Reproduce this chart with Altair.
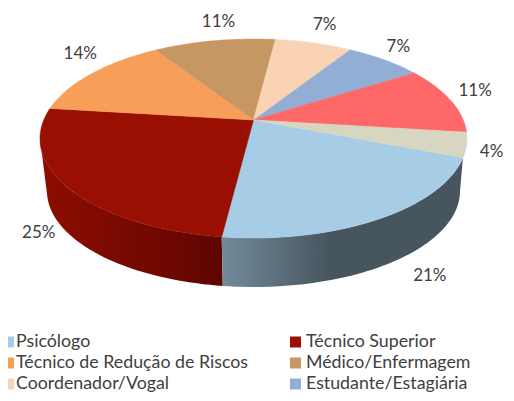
import math
import altair as alt

# --- data
categories = ["Psicólogo", "Técnico Superior", "Técnico de Redução de Riscos", "Médico/Enfermagem",
              "Coordenador/Vogal", "Estudante/Estagiária", "Outros A", "Outros B"]
shares = [21, 25, 14, 11, 7, 7, 11, 4]
top_colors = ["#A6CDE5", "#990F02", "#F79F58", "#C79763", "#FAD3B5", "#92AED4", "#FF6868", "#D8D6C0"]
legend_names = categories[:6]

# --- layout (picture pixels; the page margin is subtracted below)
M = 8
W, H = 498, 385
FIRST_ANGLE = 111.5
CX, CY, RX, RY = 253.5, 138.5, 213.5, 99.5      # top rim
CY2, RX2, RY2 = 191.0, 206.5, 96.0              # bottom rim
TILT = 0.186                                    # perspective: how far the apex sits behind the rim's centre
# where each visible side wall meets the pie's silhouette: (top rim angle, bottom rim angle)
wall_limits = {"Psicólogo": (None, 100.7), "Técnico Superior": (259.3, 255.4)}
label_offsets = [(53, 8), (-34, -4), (-12, -19), (4, -19), (11, -18), (14, -13), (25, -9), (25, 7)]
legend_rows = [342, 363, 384]
legend_cols = [(8, 14, 16), (290, 301, 306)]
FONT = "Lato"


def warp(phi):
    """Perspective of a point of the unit circle seen tilted."""
    a = math.radians(phi)
    den = 1 + TILT * math.cos(a)
    return math.sin(a) * math.sqrt(1 - TILT ** 2) / den, (math.cos(a) + TILT) / den


def rim(phi, bottom=False):
    u, v = warp(phi)
    if bottom:
        return [CX + RX2 * u - M, CY2 - RY2 * v - M]
    return [CX + RX * u - M, CY - RY * v - M]


def arc_points(a, b, bottom=False):
    n = max(2, int(abs(b - a) / 1.5))
    return [rim(a + (b - a) * i / n, bottom) for i in range(n + 1)]


def feature(ring, name):
    return {"type": "Feature", "properties": {"name": name},
            "geometry": {"type": "Polygon", "coordinates": [ring + [ring[0]]]}}


apex = [CX - M, CY - RY * TILT - M]

spans, start = [], FIRST_ANGLE
for s in shares:
    spans.append((start, start + s * 3.6))
    start += s * 3.6

top_features = [feature([apex] + arc_points(a, b), n) for (a, b), n in zip(spans, categories)]

# an empty frame as large as the chart makes the projection's fit the identity: 1 unit = 1 pixel
frame = alt.Chart(alt.Data(values=[feature([[0, 0], [W, 0], [W, H], [0, H]], "frame")])).mark_geoshape(
    fill="transparent", strokeWidth=0, stroke="transparent")

projection = alt.Projection(type="identity")
color_scale = alt.Scale(domain=categories, range=top_colors)


def gradient(stops):
    return alt.LinearGradient(gradient="linear", x1=0, x2=1, y1=0, y2=0,
                              stops=[alt.GradientStop(offset=o, color=c) for o, c in stops])


wall_fills = {
    "Técnico Superior": gradient([(0, "#8E0D01"), (1, "#5E0500")]),
    "Psicólogo": gradient([(0, "#728B9B"), (0.45, "#47555F"), (1, "#47555F")]),
}
walls = []
for name, fill in wall_fills.items():
    a, b = spans[categories.index(name)]
    top_end, bottom_end = wall_limits[name]
    if name == "Psicólogo":          # the silhouette lies at the start of the slice
        ring = arc_points(a, b) + arc_points(bottom_end, b, True)[::-1]
    else:                            # the silhouette lies towards the end of the slice
        ring = arc_points(a, top_end) + arc_points(a, bottom_end, True)[::-1]
    walls.append(alt.Chart(alt.Data(values=[feature(ring, name)])).mark_geoshape(
        fill=fill, strokeWidth=0, stroke="transparent"))

tops = alt.Chart(alt.Data(values=top_features)).mark_geoshape(strokeWidth=0.5).encode(
    fill=alt.Fill("properties.name:N", scale=color_scale, legend=None),
    stroke=alt.Stroke("properties.name:N", scale=color_scale, legend=None),
)

label_rows = []
for i, ((a, b), s) in enumerate(zip(spans, shares)):
    mid = (a + b) / 2
    front = warp(mid)[1] < -0.2 or categories[i] == categories[1]
    x, y = rim(mid, front)
    dx, dy = label_offsets[i]
    label_rows.append({"lon": x + dx, "lat": y + dy, "text": f"{s}%"})
labels = alt.Chart(alt.Data(values=label_rows)).mark_text(
    font=FONT, fontSize=17, color="#404040", align="center", baseline="middle"
).encode(longitude="lon:Q", latitude="lat:Q", text="text:N")

legend_box, legend_text = [], []
for i, name in enumerate(legend_names):
    x0, x1, tx = legend_cols[i % 2]
    y = legend_rows[i // 2] - M
    x0, x1, tx = x0 - M, x1 - M, tx - M
    legend_box.append(feature([[x0, y - 5.5], [x1, y - 5.5], [x1, y + 5.5], [x0, y + 5.5]], name))
    legend_text.append({"lon": tx, "lat": y, "text": name})
boxes = alt.Chart(alt.Data(values=legend_box)).mark_geoshape(strokeWidth=0).encode(
    fill=alt.Fill("properties.name:N", scale=color_scale, legend=None)
)
names = alt.Chart(alt.Data(values=legend_text)).mark_text(
    font=FONT, fontSize=17.8, color="#404040", align="left", baseline="middle"
).encode(longitude="lon:Q", latitude="lat:Q", text="text:N")

chart = alt.layer(frame, *walls, tops, labels, boxes, names).resolve_scale(fill="shared", stroke="shared").properties(
    width=W, height=H, padding=0, autosize=alt.AutoSizeParams(type="none"), projection=projection
).configure_view(stroke=None)

chart.save("out.html", embed_options={"renderer": "svg", "actions": False})
